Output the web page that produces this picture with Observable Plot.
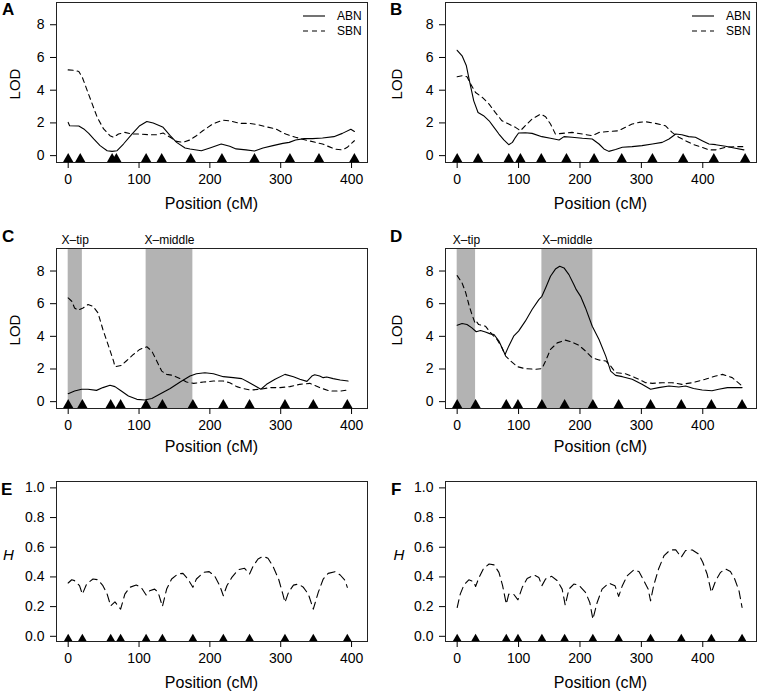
<!DOCTYPE html>
<html><head><meta charset="utf-8">
<script src="https://cdn.jsdelivr.net/npm/d3@7"></script>
<script src="https://cdn.jsdelivr.net/npm/@observablehq/plot@0.6"></script>
<style>
body{margin:0;background:#fff;font-family:"Liberation Sans",Arial,Helvetica,sans-serif;}
#fig{position:relative;width:758px;height:692px;overflow:hidden;}
.panel{position:absolute;}
#overlay{position:absolute;left:0;top:0;pointer-events:none;}
</style></head><body><div id="fig"></div><script>
// ---- data ----
const xTicks = [0, 100, 200, 300, 400];
const lodTicks = [0, 2, 4, 6, 8];
const hTicks = [0, 0.2, 0.4, 0.6, 0.8, 1.0];

const markersA = [0, 17, 62, 68, 110, 132, 173, 217, 263, 313, 354, 404];
const markersB = [0, 34, 84, 103, 137, 178, 223, 268, 318, 368, 418, 469];
const markersC = [0, 20, 60, 74, 110, 133, 176, 219, 256, 306, 346, 394];
const markersD = [0, 30, 80, 99, 138, 175, 221, 263, 315, 365, 414, 464];

const A_ABN = [[0,2.03],[2,1.83],[15,1.81],[22,1.63],[29,1.36],[36,1.02],[45,0.61],[55,0.30],[62,0.26],[69,0.30],[78,0.71],[90,1.32],[101,1.83],[111,2.09],[120,1.99],[130,1.81],[134,1.73],[144,1.22],[153,0.81],[165,0.47],[172,0.41],[188,0.30],[200,0.47],[216,0.71],[228,0.57],[237,0.41],[251,0.35],[263,0.28],[275,0.47],[289,0.61],[303,0.75],[312,0.81],[321,0.96],[333,1.04],[345,1.04],[359,1.08],[375,1.16],[387,1.36],[399,1.61],[404,1.48]];
const A_SBN = [[0,5.24],[8,5.22],[15,5.14],[20,4.78],[27,3.96],[34,3.15],[41,2.34],[50,1.63],[59,1.22],[64,1.12],[71,1.32],[80,1.42],[90,1.32],[101,1.32],[113,1.28],[125,1.28],[134,1.38],[144,1.12],[153,0.87],[162,0.81],[172,0.96],[181,1.22],[190,1.52],[204,1.93],[218,2.17],[228,2.13],[242,1.97],[256,1.97],[268,1.89],[279,1.77],[293,1.63],[307,1.32],[321,1.12],[335,0.96],[349,0.81],[359,0.71],[368,0.55],[377,0.39],[387,0.35],[394,0.51],[404,0.91]];

const B_ABN = [[0,6.44],[8,6.10],[15,5.49],[20,4.57],[27,3.35],[34,2.64],[43,2.44],[52,2.13],[60,1.73],[68,1.32],[76,0.96],[84,0.67],[90,0.81],[95,1.12],[100,1.38],[111,1.40],[122,1.36],[138,1.16],[152,1.06],[166,0.96],[174,1.16],[187,1.12],[204,1.06],[220,1.02],[231,0.71],[239,0.41],[247,0.26],[258,0.37],[269,0.51],[285,0.55],[301,0.61],[318,0.71],[334,0.81],[345,1.02],[356,1.32],[366,1.28],[377,1.16],[388,1.12],[399,0.91],[410,0.71],[421,0.67],[437,0.57],[453,0.45],[467,0.35]];
const B_SBN = [[0,4.82],[8,4.88],[16,4.82],[22,4.37],[30,3.86],[41,3.56],[52,3.15],[62,2.64],[73,2.13],[84,1.93],[95,1.73],[103,1.52],[111,1.83],[122,2.24],[136,2.54],[144,2.38],[152,1.93],[160,1.32],[171,1.36],[187,1.42],[204,1.32],[220,1.22],[231,1.42],[247,1.48],[263,1.52],[274,1.73],[285,1.93],[296,2.03],[307,2.07],[323,1.97],[339,1.83],[350,1.42],[361,1.12],[372,0.91],[385,0.67],[399,0.51],[410,0.35],[421,0.35],[437,0.51],[453,0.55],[467,0.55]];

const C_ABN = [[0,0.49],[9,0.65],[19,0.76],[28,0.76],[40,0.69],[49,0.86],[59,1.0],[66,0.92],[75,0.65],[85,0.35],[97,0.14],[108,0.10],[118,0.19],[129,0.45],[144,0.80],[158,1.20],[172,1.57],[181,1.71],[193,1.77],[205,1.71],[219,1.53],[233,1.47],[245,1.41],[254,1.20],[264,0.96],[272,0.76],[280,1.06],[292,1.37],[306,1.67],[318,1.53],[327,1.37],[337,1.24],[344,1.57],[348,1.65],[355,1.57],[360,1.47],[365,1.51],[374,1.41],[384,1.33],[395,1.26]];
const C_SBN = [[0,6.35],[5,6.15],[9,5.74],[14,5.60],[21,5.74],[28,5.95],[35,5.84],[42,5.44],[49,4.42],[57,3.40],[64,2.49],[66,2.14],[75,2.22],[82,2.49],[92,2.89],[101,3.20],[111,3.36],[118,3.10],[125,2.49],[132,1.87],[139,1.67],[148,1.61],[158,1.41],[167,1.20],[177,1.12],[191,1.20],[205,1.26],[219,1.26],[228,1.16],[238,0.92],[247,0.80],[257,0.71],[271,0.76],[285,0.86],[299,0.86],[313,0.92],[327,1.06],[341,1.12],[355,0.86],[369,0.65],[384,0.65],[395,0.71]];

const D_ABN = [[0,4.68],[8,4.79],[16,4.72],[24,4.52],[31,4.28],[38,4.36],[46,4.26],[54,4.15],[60,4.11],[68,3.71],[73,3.30],[78,2.89],[84,3.40],[92,4.01],[100,4.32],[111,4.93],[122,5.64],[133,6.25],[138,6.45],[144,6.96],[152,7.68],[160,8.12],[167,8.29],[174,8.19],[182,7.78],[190,7.17],[194,6.86],[201,6.45],[209,5.74],[220,4.62],[231,3.81],[242,2.79],[250,1.87],[258,1.61],[269,1.53],[285,1.37],[301,1.06],[315,0.76],[328,0.86],[345,0.96],[361,0.90],[372,0.96],[385,0.80],[399,0.71],[415,0.67],[426,0.76],[440,0.86],[453,0.86],[464,0.86]];
const D_SBN = [[0,7.72],[8,7.27],[14,6.66],[19,5.95],[24,5.34],[29,4.83],[31,4.93],[35,4.72],[46,4.62],[57,4.11],[65,3.81],[73,3.30],[79,2.79],[87,2.49],[98,2.14],[111,2.02],[128,1.98],[138,2.02],[144,2.49],[152,3.20],[163,3.60],[176,3.77],[187,3.65],[198,3.46],[209,3.10],[220,2.69],[231,2.55],[242,2.49],[250,2.18],[258,1.77],[274,1.71],[290,1.47],[307,1.16],[318,1.12],[334,1.16],[350,1.16],[366,1.06],[383,1.16],[404,1.37],[421,1.57],[432,1.67],[448,1.47],[464,0.96]];

const E_H = [[0,0.359],[5,0.381],[9,0.375],[16,0.341],[20,0.284],[26,0.352],[35,0.386],[42,0.381],[49,0.341],[55,0.284],[60,0.205],[66,0.232],[74,0.183],[80,0.284],[87,0.33],[96,0.345],[103,0.33],[110,0.278],[115,0.307],[122,0.318],[127,0.296],[133,0.201],[139,0.318],[146,0.386],[155,0.42],[162,0.424],[169,0.386],[176,0.33],[181,0.386],[191,0.431],[199,0.436],[207,0.404],[214,0.341],[219,0.273],[224,0.341],[231,0.397],[240,0.449],[249,0.458],[256,0.42],[261,0.472],[268,0.521],[275,0.539],[282,0.526],[289,0.472],[297,0.386],[303,0.284],[306,0.228],[311,0.296],[318,0.345],[325,0.352],[332,0.33],[339,0.284],[346,0.183],[353,0.296],[360,0.386],[367,0.424],[377,0.436],[384,0.413],[391,0.375],[394,0.33]];
const F_H = [[0,0.194],[5,0.284],[11,0.345],[19,0.381],[27,0.368],[30,0.336],[35,0.39],[43,0.458],[52,0.487],[60,0.481],[68,0.431],[74,0.341],[80,0.217],[84,0.284],[92,0.284],[99,0.246],[106,0.33],[114,0.39],[125,0.413],[133,0.397],[138,0.341],[144,0.386],[154,0.404],[163,0.375],[171,0.318],[176,0.21],[182,0.318],[190,0.352],[198,0.345],[209,0.296],[216,0.228],[221,0.115],[228,0.228],[236,0.318],[247,0.359],[257,0.341],[263,0.269],[269,0.341],[277,0.408],[288,0.449],[296,0.436],[304,0.375],[311,0.318],[315,0.239],[320,0.341],[328,0.454],[337,0.544],[347,0.582],[356,0.582],[365,0.533],[372,0.578],[383,0.582],[393,0.555],[400,0.499],[407,0.42],[414,0.296],[421,0.375],[429,0.431],[437,0.454],[445,0.436],[452,0.386],[459,0.307],[464,0.194]];

const regionsC = [{name: "X–tip", start: 0, end: 20}, {name: "X–middle", start: 110, end: 176}];
const regionsD = [{name: "X–tip", start: 0, end: 30}, {name: "X–middle", start: 138, end: 221}];
const legendLabels = ["ABN", "SBN"];
const panelLetters = ["A", "B", "C", "D", "E", "F"];
const xTitle = "Position (cM)";

// ---- layout ----
const FONT = '"Liberation Sans", Arial, Helvetica, sans-serif';
const cols = [{left: 0, width: 378, ml: 56, mr: 11, xDomain: [-16.5, 422.5]},
              {left: 378, width: 380, ml: 67, mr: 2, xDomain: [-19, 487.5]}];
const rows = [{top: 0, height: 225, mt: 2, mb: 63, yDomain: [-0.42, 9.36]},
              {top: 225, height: 230, mt: 23, mb: 47, yDomain: [-0.42, 9.38]},
              {top: 455, height: 237, mt: 26, mb: 51, yDomain: [-0.035, 1.043]}];
const fig = document.getElementById("fig");

function addPanel(col, row, cfg) {
  const c = cols[col], r = rows[row];
  const marks = [];
  if (cfg.regions) {
    marks.push(Plot.rect(cfg.regions, {x1: "start", x2: "end", fill: "#b3b3b3", clip: true}));
    marks.push(Plot.text(cfg.regions, {x: d => (d.start + d.end) / 2, text: "name", frameAnchor: "top", lineAnchor: "middle", dy: -8.5, fontSize: 12, fill: "black"}));
  }
  for (const s of cfg.series) {
    marks.push(Plot.line(s.data, {x: d => d[0], y: d => d[1], stroke: "black", strokeWidth: 1.1, strokeDasharray: s.dash, clip: true}));
  }
  marks.push(Plot.dot(cfg.markers, {x: d => d, y: () => 0, symbol: "triangle", r: 3.8, fill: "black", dy: 3.3, clip: true}));
  marks.push(Plot.frame({stroke: "#222", strokeWidth: 1}));
  marks.push(Plot.axisX({ticks: xTicks, tickSize: 6, tickPadding: 6, fontSize: 14, label: null}));
  marks.push(Plot.axisY({ticks: cfg.yTicks, tickFormat: cfg.yFormat, tickSize: 6, tickPadding: 6, fontSize: 14, label: null}));
  const svg = Plot.plot({
    width: c.width, height: r.height,
    marginLeft: c.ml, marginRight: c.mr, marginTop: r.mt, marginBottom: r.mb,
    x: {domain: c.xDomain}, y: {domain: r.yDomain},
    style: {background: "transparent", fontFamily: FONT, color: "black", overflow: "visible"},
    marks
  });
  const div = document.createElement("div");
  div.className = "panel";
  div.style.left = c.left + "px";
  div.style.top = r.top + "px";
  div.appendChild(svg);
  fig.appendChild(div);
}

const dashLOD = "5,4", dashH = "8,5";
const lodFmt = d3.format("d"), hFmt = d3.format(".1f");
addPanel(0, 0, {markers: markersA, yTicks: lodTicks, yFormat: lodFmt, series: [{data: A_ABN}, {data: A_SBN, dash: dashLOD}]});
addPanel(1, 0, {markers: markersB, yTicks: lodTicks, yFormat: lodFmt, series: [{data: B_ABN}, {data: B_SBN, dash: dashLOD}]});
addPanel(0, 1, {markers: markersC, yTicks: lodTicks, yFormat: lodFmt, regions: regionsC, series: [{data: C_ABN}, {data: C_SBN, dash: dashLOD}]});
addPanel(1, 1, {markers: markersD, yTicks: lodTicks, yFormat: lodFmt, regions: regionsD, series: [{data: D_ABN}, {data: D_SBN, dash: dashLOD}]});
addPanel(0, 2, {markers: markersC, yTicks: hTicks, yFormat: hFmt, series: [{data: E_H, dash: dashH}]});
addPanel(1, 2, {markers: markersD, yTicks: hTicks, yFormat: hFmt, series: [{data: F_H, dash: dashH}]});

// ---- overlay text: panel letters, axis titles, legends ----
const ov = d3.select(fig).append("svg").attr("id", "overlay").attr("width", 758).attr("height", 692)
  .style("font-family", FONT);
const letterPos = [[2, 15], [390, 15], [2, 242], [390, 242], [1, 495], [391, 495]];
panelLetters.forEach((t, i) => ov.append("text").attr("x", letterPos[i][0]).attr("y", letterPos[i][1])
  .attr("font-size", 17).attr("font-weight", "bold").text(t));
const colCenters = cols.map(c => c.left + c.ml + (c.width - c.ml - c.mr) / 2);
const titleY = [208.7, 452.4, 688.4];
titleY.forEach(y => colCenters.forEach(x => ov.append("text").attr("x", x).attr("y", y)
  .attr("text-anchor", "middle").attr("font-size", 16).text(xTitle)));
const lodX = [15, 397];
[0, 1].forEach(ri => {
  const r = rows[ri];
  const cy = r.top + r.mt + (r.height - r.mt - r.mb) / 2 + 2;
  lodX.forEach(x => ov.append("text").attr("transform", `translate(${x + 5.4},${cy}) rotate(-90)`)
    .attr("text-anchor", "middle").attr("font-size", 15).text("LOD"));
});
[8.3, 399].forEach(x => ov.append("text").attr("x", x).attr("y", 560.4).attr("text-anchor", "middle")
  .attr("font-size", 15).attr("font-style", "italic").text("H"));
// legends (panels A and B)
[[303, 337], [692, 726]].forEach(([lx, tx]) => {
  [16, 31].forEach((y, i) => {
    ov.append("line").attr("x1", lx).attr("x2", lx + 22).attr("y1", y).attr("y2", y)
      .attr("stroke", "black").attr("stroke-width", 1.1).attr("stroke-dasharray", i ? "5,4" : null);
    ov.append("text").attr("x", tx).attr("y", y + 4.3).attr("font-size", 12).text(legendLabels[i]);
  });
});
</script></body></html>
